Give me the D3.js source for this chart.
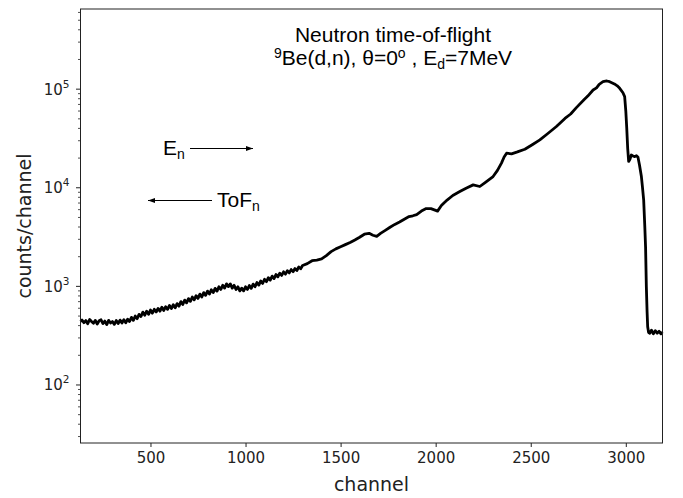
<!DOCTYPE html>
<html><head><meta charset="utf-8">
<script src="https://cdn.jsdelivr.net/npm/d3@7"></script>
<style>body{margin:0;background:#fff}</style>
</head><body>
<svg id="c" width="683" height="498"></svg>
<script>
const channels = [132,140,150,160,170,180,190,200,210,220,230,240,250,260,270,280,290,300,310,320,330,340,350,360,370,380,390,400,410,420,430,440,450,460,470,480,490,500,510,520,530,540,550,560,570,580,590,600,610,620,630,640,650,660,670,680,690,700,710,720,730,740,750,760,770,780,790,800,810,820,830,840,850,860,870,880,890,900,910,920,930,940,950,960,970,980,990,1000,1010,1020,1030,1040,1050,1060,1070,1080,1090,1100,1110,1120,1130,1140,1150,1160,1170,1180,1190,1200,1210,1220,1230,1240,1250,1260,1270,1280,1290,1300,
1325,1350,1375,1400,1425,1450,1475,1500,1525,1550,1575,1600,1625,1650,1670,1690,1710,1735,1760,1785,1810,1835,1860,1880,1900,1925,1950,1975,2000,2010,2030,2060,2090,2127,2160,2197,2232,2260,2302,2325,2346,2360,2373,2399,2430,2469,2510,2548,2590,2635,2680,2710,2740,2780,2800,2828,2846,2860,2880,2900,2915,2940,2955,2968,2985,2994,3000,3005,3010,3015,3022,3029,3038,3047,3056,3064,3072,3082,3088,3094,3100,3104,3108,3112,3115,3120,3126,3135,3145,3155,3165,3175,3185,3192];
const counts = [440,455,428,450,418,462,440,422,452,415,448,458,420,445,410,452,425,440,412,450,420,455,425,460,428,465,440,485,452,500,470,520,495,548,510,560,520,575,535,585,550,598,560,615,570,622,585,640,595,652,605,668,630,700,655,725,680,752,705,780,730,805,755,835,780,865,810,895,835,925,865,955,895,990,930,1025,960,1060,995,1060,960,1025,930,990,900,960,900,990,930,1020,955,1055,990,1095,1030,1135,1070,1180,1115,1225,1155,1270,1200,1320,1250,1360,1290,1405,1330,1440,1370,1480,1410,1515,1450,1570,1510,1630,
1700,1820,1850,1900,2050,2250,2400,2520,2650,2780,2950,3150,3380,3450,3300,3220,3450,3700,3980,4250,4500,4800,5100,5200,5350,5800,6150,6150,5900,5800,6600,7500,8350,9150,9900,10700,10300,11300,13000,15000,17800,20500,22400,22100,23100,24600,27500,30600,35500,41800,50500,56000,65000,78000,85000,98000,103000,112000,119000,121000,119000,113000,108000,102000,92000,84000,60000,40000,25000,18500,19500,21500,21000,20700,21200,20400,17000,13000,10000,7500,4000,2500,1000,550,390,340,335,360,330,355,335,350,330,345];
const xTicks = [500,1000,1500,2000,2500,3000];
const yTicks = [100,1000,10000,100000];
const yTickExp = ["2","3","4","5"];
const xDomain = [132,3193];
const yDomain = [25.8,650000];

const svg = d3.select("#c");
const L=80.5, R=662.5, T=9, B=443;
const x = d3.scaleLinear().domain(xDomain).range([L,R]);
const y = d3.scaleLog().domain(yDomain).range([B,T]);
const tickFont = "DejaVu Sans, sans-serif";
const col = "#222";

// line
const data = channels.map((c,i)=>[c,counts[i]]);
svg.append("path").datum(data)
  .attr("fill","none").attr("stroke","#000").attr("stroke-width",2.8)
  .attr("stroke-linejoin","round")
  .attr("d", d3.line().x(d=>x(d[0])).y(d=>y(d[1])));

// frame
svg.append("rect").attr("x",L).attr("y",T).attr("width",R-L).attr("height",B-T)
  .attr("fill","none").attr("stroke",col).attr("stroke-width",1);

// x axis
const gx = svg.append("g").attr("transform",`translate(0,${B})`)
  .call(d3.axisBottom(x).tickValues(xTicks).tickSize(4).tickPadding(5).tickFormat(d3.format("d")));
gx.select(".domain").remove();
gx.selectAll("line").attr("stroke",col);
gx.selectAll("text").attr("font-family",tickFont).attr("font-size",15).attr("fill","#222");

// y axis minor ticks
const minor = [];
for (let e=1;e<=5;e++) for (let m=2;m<=9;m++){const v=m*Math.pow(10,e); if(v>=yDomain[0]&&v<=yDomain[1]) minor.push(v);}
const gy = svg.append("g").attr("transform",`translate(${L},0)`);
gy.selectAll("line.minor").data(minor).join("line").attr("class","minor")
  .attr("x1",-2.5).attr("x2",0).attr("y1",d=>y(d)).attr("y2",d=>y(d)).attr("stroke",col).attr("stroke-width",0.8);
gy.selectAll("line.major").data(yTicks).join("line").attr("class","major")
  .attr("x1",-4.5).attr("x2",0).attr("y1",d=>y(d)).attr("y2",d=>y(d)).attr("stroke",col).attr("stroke-width",1);
const yl = gy.selectAll("text.lab").data(yTicks).join("text").attr("class","lab")
  .attr("x",-11).attr("y",d=>y(d)+5.5).attr("text-anchor","end")
  .attr("font-family",tickFont).attr("font-size",15).attr("fill","#222");
yl.append("tspan").text("10");
yl.append("tspan").attr("dy",-7).attr("font-size",10.5).text((d,i)=>yTickExp[i]);

// axis labels
svg.append("text").attr("x",(L+R)/2).attr("y",491).attr("text-anchor","middle")
  .attr("font-family",tickFont).attr("font-size",19).attr("fill","#222").text("channel");
svg.append("text").attr("transform",`translate(31,${(T+B)/2}) rotate(-90)`).attr("text-anchor","middle")
  .attr("font-family",tickFont).attr("font-size",19).attr("fill","#222").text("counts/channel");

// title
const tf = "Liberation Sans, Arial, sans-serif";
svg.append("text").attr("x",393).attr("y",42).attr("text-anchor","middle")
  .attr("font-family",tf).attr("font-size",21).attr("fill","#000").text("Neutron time-of-flight");
const t2 = svg.append("text").attr("x",393).attr("y",65).attr("text-anchor","middle")
  .attr("font-family",tf).attr("font-size",21).attr("fill","#000");
t2.append("tspan").attr("font-size",14).attr("dy",-7).text("9");
t2.append("tspan").attr("dy",7).text("Be(d,n), θ=0");
t2.append("tspan").attr("font-size",14).attr("dy",-7).text("o");
t2.append("tspan").attr("dy",7).text("  , E");
t2.append("tspan").attr("font-size",14).attr("dy",4).text("d");
t2.append("tspan").attr("dy",-4).text("=7MeV");

// annotations
const defs = svg.append("defs");
defs.append("marker").attr("id","ah").attr("viewBox","0 0 10 10").attr("refX",10).attr("refY",5)
  .attr("markerWidth",7).attr("markerHeight",7).attr("orient","auto")
  .append("path").attr("d","M0,1.5 L10,5 L0,8.5 Z").attr("fill","#000");
const en = svg.append("text").attr("x",163).attr("y",155).attr("font-family",tf).attr("font-size",21).attr("fill","#000");
en.append("tspan").text("E");
en.append("tspan").attr("font-size",14).attr("dy",4).text("n");
svg.append("line").attr("x1",190).attr("x2",253).attr("y1",148.5).attr("y2",148.5)
  .attr("stroke","#000").attr("stroke-width",1).attr("marker-end","url(#ah)");
const tof = svg.append("text").attr("x",217).attr("y",206.5).attr("font-family",tf).attr("font-size",21).attr("fill","#000");
tof.append("tspan").text("ToF");
tof.append("tspan").attr("font-size",14).attr("dy",4).text("n");
svg.append("line").attr("x1",212).attr("x2",148).attr("y1",200.5).attr("y2",200.5)
  .attr("stroke","#000").attr("stroke-width",1).attr("marker-end","url(#ah)");
</script>
</body></html>
